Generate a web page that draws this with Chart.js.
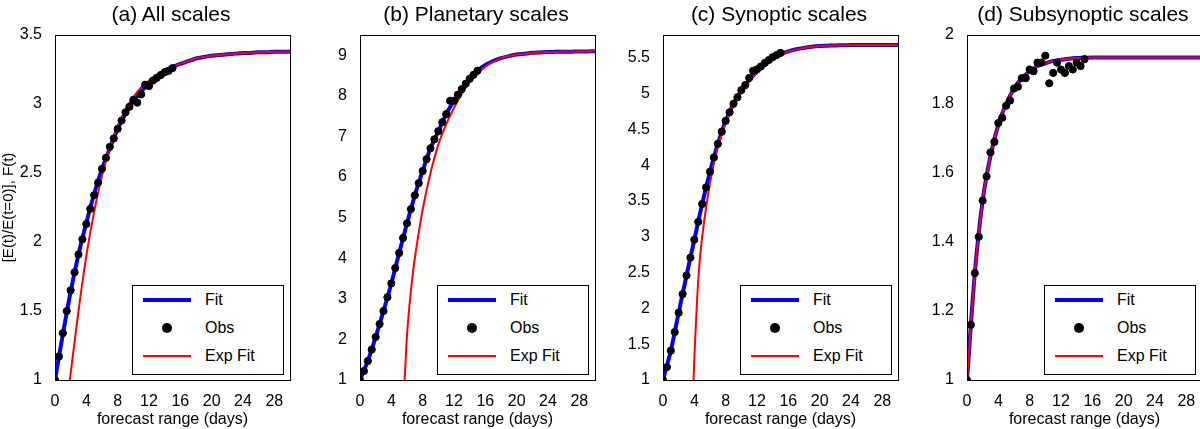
<!DOCTYPE html>
<html lang="en">
<head>
<meta charset="UTF-8">
<title>Error growth fits</title>
<style>
    body { margin: 0; width: 1200px; height: 429px; background: #fff; position: relative; overflow: hidden; font-family: "Liberation Sans", Arial, sans-serif; }
    canvas { position: absolute; top: 0; }
    .title { position: absolute; top: 2px; font-size: 21px; color: #000; text-align: center; width: 232px; }
    .legend { position: absolute; top: 285px; width: 150px; height: 88px; border: 1px solid #000; background: #fff; font-size: 16px; }
    .legend div { position: relative; height: 28px; line-height: 28px; padding-left: 72px; }
    .legend span.ln { position: absolute; left: 10px; top: 13px; width: 48px; }
    .legend span.dot { position: absolute; left: 29px; top: 9px; width: 10px; height: 10px; border-radius: 50%; background: #000; }
</style>
</head>
<body>
<script src="https://cdn.jsdelivr.net/npm/chart.js"></script>
<script>
    var titles = ["(a) All scales", "(b) Planetary scales", "(c) Synoptic scales", "(d) Subsynoptic scales"];
    var plotLefts = [55, 360, 663, 967];
    var xTicks = [0, 4, 8, 12, 16, 20, 24, 28];

    var obsDays = [0,0.5,1,1.5,2,2.5,3,3.5,4,4.5,5,5.5,6,6.5,7,7.5,8,8.5,9,9.5,10,10.5,11,11.5,12,12.5,13,13.5,14,14.5,15];
    var fitDays = [0,1,2,3,4,5,6,7,8,9,10,11,12,13,14,15,16,17,18,19,20,21,22,23,24,25,26,27,28,29,30];

    // (a) all scales
    var obsA = [1.0,1.17,1.34,1.50,1.65,1.78,1.91,2.02,2.13,2.24,2.34,2.43,2.53,2.61,2.69,2.75,2.82,2.88,2.94,2.98,3.03,3.01,3.07,3.14,3.13,3.17,3.19,3.21,3.23,3.24,3.26];
    var fitA = [1.0,1.33,1.64,1.91,2.14,2.35,2.53,2.68,2.82,2.93,3.02,3.09,3.15,3.20,3.24,3.27,3.29,3.31,3.33,3.34,3.35,3.355,3.36,3.365,3.37,3.37,3.375,3.375,3.378,3.378,3.38];
    var expDaysA = [1.9,2,3,4,5,6,7,8,9,10,11,12,13,14,15,16,18,20,22,24,26,28,30];
    var expA = [1.0,1.05,1.50,1.90,2.22,2.48,2.68,2.84,2.96,3.05,3.12,3.17,3.21,3.25,3.27,3.29,3.33,3.35,3.36,3.37,3.375,3.378,3.38];

    // (b) planetary scales
    var obsB = [1.0,1.22,1.47,1.75,2.06,2.38,2.70,3.04,3.38,3.76,4.13,4.50,4.86,5.21,5.55,5.85,6.15,6.44,6.71,6.93,7.13,7.35,7.55,7.88,7.88,8.03,8.17,8.30,8.42,8.52,8.62];
    var fitB = [1.0,1.47,2.06,2.70,3.38,4.13,4.86,5.55,6.15,6.71,7.13,7.55,7.88,8.17,8.42,8.62,8.76,8.86,8.93,8.98,9.02,9.04,9.06,9.07,9.08,9.085,9.09,9.09,9.095,9.095,9.1];
    var expDaysB = [5.7,6,6.5,7,8,9,10,11,12,13,14,15,16,18,20,22,24,26,28,30];
    var expB = [1.0,2.1,3.2,4.0,5.2,6.1,6.8,7.3,7.7,8.05,8.35,8.55,8.72,8.93,9.02,9.06,9.08,9.09,9.095,9.1];

    // (c) synoptic scales
    var obsC = [1.0,1.18,1.41,1.67,1.94,2.20,2.46,2.71,2.96,3.21,3.46,3.69,3.91,4.11,4.30,4.47,4.62,4.74,4.86,4.95,5.05,5.12,5.22,5.32,5.34,5.38,5.43,5.47,5.51,5.54,5.57];
    var fitC = [1.0,1.41,1.94,2.46,2.96,3.46,3.91,4.30,4.62,4.86,5.04,5.19,5.31,5.41,5.49,5.55,5.59,5.62,5.64,5.655,5.665,5.67,5.675,5.677,5.68,5.68,5.68,5.68,5.68,5.68,5.68];
    var expDaysC = [3.9,4,4.5,5,6,7,8,9,10,11,12,13,14,15,16,18,20,22,24,26,28,30];
    var expC = [1.0,1.3,2.4,3.0,3.75,4.25,4.6,4.85,5.03,5.18,5.30,5.40,5.48,5.54,5.59,5.64,5.665,5.675,5.68,5.68,5.68,5.68];

    // (d) subsynoptic scales
    var obsD = [1.0,1.16,1.31,1.415,1.52,1.59,1.66,1.69,1.745,1.76,1.795,1.81,1.845,1.85,1.875,1.875,1.90,1.895,1.92,1.92,1.94,1.86,1.89,1.92,1.90,1.89,1.91,1.90,1.92,1.91,1.93];
    var fitD = [1.0,1.31,1.52,1.65,1.74,1.80,1.845,1.875,1.895,1.91,1.918,1.925,1.928,1.931,1.933,1.934,1.935,1.935,1.935,1.935,1.935,1.935,1.935,1.935,1.935,1.935,1.935,1.935,1.935,1.935,1.935];
    var expDaysD = fitDays;
    var expD = [1.0,1.31,1.52,1.65,1.74,1.80,1.845,1.875,1.895,1.91,1.918,1.925,1.928,1.931,1.933,1.934,1.935,1.935,1.935,1.935,1.935,1.935,1.935,1.935,1.935,1.935,1.935,1.935,1.935,1.935,1.935];

    var yTicksA = [1, 1.5, 2, 2.5, 3, 3.5];
    var yTicksB = [1, 2, 3, 4, 5, 6, 7, 8, 9];
    var yTicksC = [1, 1.5, 2, 2.5, 3, 3.5, 4, 4.5, 5, 5.5];
    var yTicksD = [1, 1.2, 1.4, 1.6, 1.8, 2];
    var yRanges = [[1, 3.5], [1, 9.5], [1, 5.82], [1, 2]];

    function pairs(xs, ys) {
        return xs.map(function (x, i) { return { x: x, y: ys[i] }; });
    }

    // box around the plot area, like the original figure
    var framePlugin = {
        id: "frame",
        afterDatasetsDraw: function (chart) {
            var a = chart.chartArea, ctx = chart.ctx;
            ctx.save();
            ctx.strokeStyle = "#000";
            ctx.lineWidth = 1;
            ctx.strokeRect(a.left + 0.5, a.top + 0.5, a.right - a.left, a.bottom - a.top);
            ctx.restore();
        }
    };

    function makePanel(i, obs, fit, expDays, exp, yTicks) {
        var left = plotLefts[i];
        var canvas = document.createElement("canvas");
        canvas.style.left = (left - 55) + "px";
        canvas.style.width = "295px";
        canvas.style.height = "429px";
        canvas.width = 295;
        canvas.height = 429;
        document.body.appendChild(canvas);

        var t = document.createElement("div");
        t.className = "title";
        t.style.left = left + "px";
        t.textContent = titles[i];
        document.body.appendChild(t);

        var r = yRanges[i];
        new Chart(canvas.getContext("2d"), {
            type: "scatter",
            data: {
                datasets: [
                    { label: "Fit", type: "line", data: pairs(fitDays, fit), borderColor: "#0000ff", borderWidth: 4, pointRadius: 0, tension: 0.3, order: 3 },
                    { label: "Exp Fit", type: "line", data: pairs(expDays, exp), borderColor: "#ff0000", borderWidth: 2, pointRadius: 0, tension: 0.3, order: 2 },
                    { label: "Obs", data: pairs(obsDays, obs), backgroundColor: "#000", borderColor: "#000", pointRadius: 3.6, order: 1 }
                ]
            },
            options: {
                responsive: false,
                animation: false,
                layout: { padding: { top: 35, right: 2 } },
                plugins: { legend: { display: false }, tooltip: { enabled: false } },
                scales: {
                    x: {
                        type: "linear", min: 0, max: 30,
                        afterFit: function (s) { s.height = 49; },
                        afterBuildTicks: function (s) { s.ticks = xTicks.map(function (v) { return { value: v }; }); },
                        grid: { display: false },
                        border: { display: false },
                        ticks: { color: "#000", font: { size: 16, family: "Liberation Sans" }, maxRotation: 0, padding: 4 },
                        title: { display: true, text: "forecast range (days)", color: "#000", font: { size: 16, family: "Liberation Sans" }, padding: 0 }
                    },
                    y: {
                        min: r[0], max: r[1],
                        afterFit: function (s) { s.width = 55; },
                        afterBuildTicks: function (s) { s.ticks = yTicks.map(function (v) { return { value: v }; }); },
                        grid: { display: false },
                        border: { display: false },
                        ticks: {
                            color: "#000", font: { size: 16, family: "Liberation Sans" }, padding: 5,
                            callback: function (v) { return String(+v.toFixed(2)); }
                        },
                        title: { display: i === 0, text: "[E(t)/E(t=0)], F(t)", color: "#000", font: { size: 15, family: "Liberation Sans" }, padding: 0 }
                    }
                }
            },
            plugins: [framePlugin]
        });

        var lg = document.createElement("div");
        lg.className = "legend";
        lg.style.left = (left + 232 - 155) + "px";
        lg.innerHTML =
            '<div><span class="ln" style="border-top:4px solid #0000ff;top:12px"></span>Fit</div>' +
            '<div><span class="dot"></span>Obs</div>' +
            '<div><span class="ln" style="border-top:2px solid #ff0000"></span>Exp Fit</div>';
        document.body.appendChild(lg);
    }

    makePanel(0, obsA, fitA, expDaysA, expA, yTicksA);
    makePanel(1, obsB, fitB, expDaysB, expB, yTicksB);
    makePanel(2, obsC, fitC, expDaysC, expC, yTicksC);
    makePanel(3, obsD, fitD, expDaysD, expD, yTicksD);
</script>
</body>
</html>
